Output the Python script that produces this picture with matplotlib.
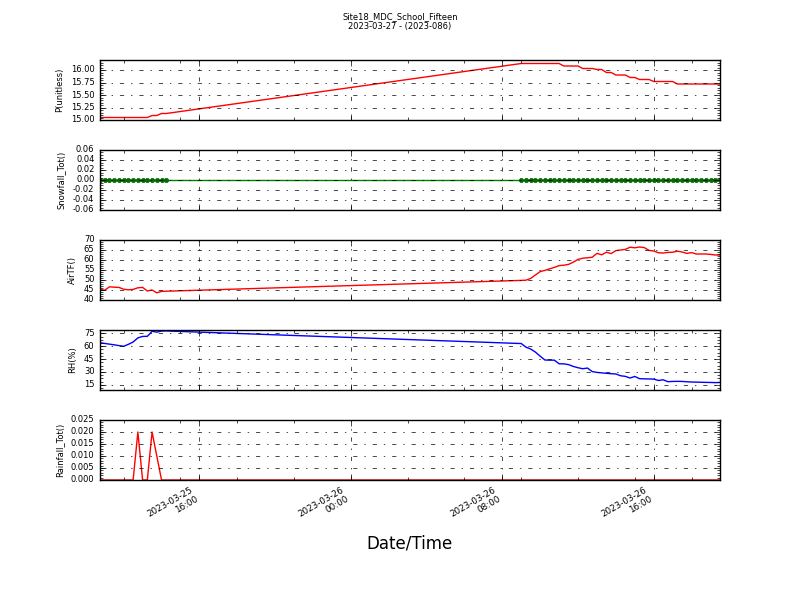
import matplotlib
matplotlib.use("Agg")
import matplotlib.pyplot as plt
import matplotlib.dates as mdates
from matplotlib.ticker import AutoMinorLocator, MultipleLocator
import pandas as pd
import numpy as np

plt.style.use('classic')

title = "Site18_MDC_School_Fifteen\n2023-03-27 - (2023-086)"

# timestamps: two recorded segments (15-min data) with a gap between them
times_seg1 = pd.date_range("2023-03-25 10:45", "2023-03-25 14:15", freq="15min")
times_seg2 = pd.date_range("2023-03-26 09:00", "2023-03-26 19:30", freq="15min")
times = times_seg1.append(times_seg2)

p_unitless = [15.05, 15.05, 15.05, 15.05, 15.05, 15.05, 15.05, 15.05, 15.05, 15.05,
              15.05, 15.09, 15.09, 15.13, 15.13,
              16.13, 16.13, 16.13, 16.13, 16.13, 16.13, 16.13, 16.13, 16.13,
              16.08, 16.08, 16.08, 16.08, 16.03, 16.03, 16.03, 16.01, 16.01,
              15.95, 15.95, 15.90, 15.90, 15.90, 15.85, 15.85, 15.81, 15.81, 15.81,
              15.77, 15.77, 15.77, 15.77, 15.77, 15.72, 15.72, 15.72, 15.72, 15.72,
              15.72, 15.72, 15.72, 15.72, 15.72]

snowfall = [0.0] * 58

air_tf = [45.3, 44.9, 46.6, 46.4, 46.3, 45.4, 45.1, 45.3, 46.1, 46.3, 44.5, 45.0, 43.6, 44.3, 44.4,
          49.8, 49.9, 50.8, 52.5, 54.2, 54.8, 55.6, 56.3, 57.2, 57.4, 57.8, 58.9, 60.3, 60.9,
          61.1, 61.4, 63.3, 62.6, 63.9, 63.2, 64.7, 65.0, 65.3, 66.4, 66.1, 66.5, 66.2, 64.8,
          64.5, 63.6, 63.5, 63.8, 63.9, 64.4, 64.0, 63.3, 63.7, 63.0, 63.0, 63.0, 62.8, 62.5, 62.5]

rh = [64.2, 63.3, 62.5, 61.7, 60.8, 60.0, 62.3, 65.0, 69.8, 71.5, 71.6, 77.5, 76.5, 77.8, 77.9,
      63.2, 59.0, 56.8, 53.2, 48.5, 44.0, 43.8, 43.8, 39.6, 39.5, 38.6, 36.5, 35.0, 33.8,
      34.6, 30.5, 29.5, 29.0, 28.5, 28.0, 27.7, 25.6, 24.9, 23.0, 24.8, 22.2, 22.0, 21.9,
      21.7, 20.1, 20.9, 18.7, 19.0, 19.1, 19.0, 18.6, 18.3, 18.2, 18.0, 17.9, 17.8, 17.6, 17.8]

rainfall = [0.0, 0.0, 0.0, 0.0, 0.0, 0.0, 0.0, 0.0, 0.02, 0.0, 0.0, 0.02, 0.01, 0.0, 0.0] + [0.0] * 43

panels = [
    ("P(unitless)", p_unitless, dict(color='r'), (15.0, 16.2), 0.25, '%.2f'),
    ("Snowfall_Tot()", snowfall, dict(color='g', marker='o', markersize=3,
                                       markeredgecolor='#005a00', markerfacecolor='#007000',
                                       markeredgewidth=0.5),
     (-0.06, 0.06), 0.02, '%.2f'),
    ("AirTF()", air_tf, dict(color='r'), (40, 70), 5, '%d'),
    ("RH(%)", rh, dict(color='b'), (9, 79), 15, '%d'),
    ("Rainfall_Tot()", rainfall, dict(color='r'), (0, 0.025), 0.005, '%.3f'),
]

fig, axes = plt.subplots(5, 1, figsize=(8, 6), sharex=False)
fig.subplots_adjust(left=0.125, right=0.9, top=0.9, bottom=0.2, hspace=0.5)
fig.patch.set_facecolor('white')

fs = 6
xmin, xmax = times[0], times[-1]
for i, (ax, (lab, vals, style, ylim, step, fmt)) in enumerate(zip(axes, panels)):
    ax.plot(times, vals, linewidth=1.0, **style)
    ax.set_xlim(xmin, xmax)
    ax.set_ylim(*ylim)
    ax.yaxis.set_major_locator(MultipleLocator(step))
    ax.yaxis.set_minor_locator(AutoMinorLocator())
    ax.yaxis.set_major_formatter(matplotlib.ticker.FormatStrFormatter(fmt))
    ax.xaxis.set_major_locator(mdates.HourLocator(byhour=[0, 8, 16]))
    ax.xaxis.set_minor_locator(mdates.HourLocator(byhour=range(0, 24, 3)))
    ax.xaxis.set_major_formatter(mdates.DateFormatter('%Y-%m-%d\n%H:%M'))
    ax.grid(True, which='major', linestyle='-.', color='k', linewidth=0.5)
    ax.set_ylabel(lab, fontsize=fs)
    ax.tick_params(axis='both', which='major', labelsize=fs, direction='in', length=4)
    ax.tick_params(axis='both', which='minor', direction='in', length=2)
    if i < 4:
        ax.tick_params(axis='x', labelbottom=False)
    else:
        for t in ax.get_xticklabels():
            t.set_rotation(30)
            t.set_ha('right')
            t.set_fontsize(6.3)

axes[-1].set_xlabel("Date/Time", fontsize=12)
fig.suptitle(title, fontsize=fs, y=0.98)

fig.savefig("out.png", dpi=100, facecolor='white')
